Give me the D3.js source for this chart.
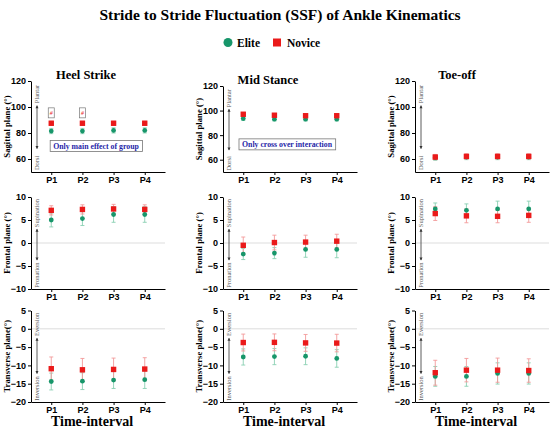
<!DOCTYPE html>
<html>
<head>
<meta charset="utf-8">
<script src="https://cdn.jsdelivr.net/npm/d3@7"></script>
<style>
  body { margin: 0; background: #fff; }
  svg { font-family: "Palatino Linotype", "Book Antiqua", Palatino, "Liberation Serif", serif; }
  .tick text { font-weight: bold; font-size: 9px; fill: #000; }
  .domain, .tick line { stroke: #000; }
</style>
</head>
<body>
<svg width="550" height="429"></svg>
<script>
// categories
const periods = ['P1', 'P2', 'P3', 'P4'];
const phases = ['Heel Strike', 'Mid Stance', 'Toe-off'];
const planes = ['Sagittal plane (°)', 'Frontal plane (°)', 'Transverse plane(°)'];

// means, one row per phase (Heel Strike, Mid Stance, Toe-off)
const eliteSagittal = [[81.5, 81.5, 82, 82], [93.5, 93, 93, 93], [61, 61.5, 61.5, 61.5]];
const noviceSagittal = [[87.5, 87.5, 87.5, 87.5], [97, 96.2, 95.8, 95.8], [61.5, 62, 62, 62]];
const eliteFrontal = [[5.0, 5.3, 6.2, 6.2], [-2.4, -2.2, -1.4, -1.4], [7.4, 7.1, 7.4, 7.4]];
const noviceFrontal = [[7.1, 7.3, 7.4, 7.3], [-0.5, 0.1, 0.2, 0.4], [6.4, 5.9, 5.8, 6.0]];
const eliteTransverse = [[-14.4, -14.3, -14.0, -13.9], [-7.7, -7.6, -7.5, -8.1], [-13.0, -13.0, -12.2, -12.2]];
const noviceTransverse = [[-10.9, -11.2, -11.1, -11.0], [-3.75, -3.7, -3.85, -3.9], [-12.0, -11.3, -11.3, -11.4]];

// standard deviations
const eliteSagittalSD = [[2, 2, 2, 2], [1.5, 1.5, 1.5, 1.5], [2, 2, 2, 2]];
const noviceSagittalSD = [[1.5, 1.5, 1.5, 1.5], [1.5, 1.5, 1.5, 1.5], [2, 2, 2, 2]];
const eliteFrontalSD = [[1.5, 1.5, 1.7, 1.7], [1.2, 1.2, 1.7, 1.8], [1.3, 1.4, 1.7, 1.7]];
const noviceFrontalSD = [[1.0, 1.0, 1.0, 1.0], [1.8, 1.6, 1.5, 1.5], [1.5, 1.5, 1.4, 1.5]];
const eliteTransverseSD = [[2.3, 2.3, 2.3, 2.4], [2.2, 2.2, 2.3, 2.4], [2.7, 2.7, 2.9, 2.9]];
const noviceTransverseSD = [[3.2, 3.1, 3.1, 3.1], [2.3, 2.3, 2.3, 2.4], [3.4, 3.2, 3.3, 3.2]];

// axis ticks per plane
const sagittalTicks = [60, 80, 100, 120];
const frontalTicks = [-10, -5, 0, 5, 10];
const transverseTicks = [-20, -15, -10, -5, 0, 5];

// direction labels per plane: [top word, bottom word]
const directionWords = [['Plantar', 'Dorsi'], ['Supination', 'Pronation'], ['Eversion', 'Inversion']];

const green = '#17966a', red = '#ea1a1a';
const greenBar = '#8ad0b2', redBar = '#f39a9a';

const rows = [
  {domain: [50, 120], ticks: sagittalTicks, bottom: 172, tops: [81, 86, 81],
   elite: eliteSagittal, novice: noviceSagittal, eSD: eliteSagittalSD, nSD: noviceSagittalSD,
   arrow: [101, 68], words: [110, 57], zero: false},
  {domain: [-10, 10], ticks: frontalTicks, bottom: 289, tops: [197, 197, 197],
   elite: eliteFrontal, novice: noviceFrontal, eSD: eliteFrontalSD, nSD: noviceFrontalSD,
   arrow: [3, -3.7], words: [6.5, -7], zero: true},
  {domain: [-20, 5], ticks: transverseTicks, bottom: 402, tops: [310.5, 310.5, 310.5],
   elite: eliteTransverse, novice: noviceTransverse, eSD: eliteTransverseSD, nSD: noviceTransverseSD,
   arrow: [-2.6, -12.2], words: [1.2, -16.3], zero: true}
];

const axisX = [31, 223, 415];
const axisLen = 134;

const svg = d3.select('svg');

svg.append('text').attr('x', 280).attr('y', 20).attr('text-anchor', 'middle')
  .attr('font-weight', 'bold').attr('font-size', 15.5)
  .text('Stride to Stride Fluctuation (SSF) of Ankle Kinematics');

// legend
svg.append('circle').attr('cx', 228).attr('cy', 42.5).attr('r', 4.5).attr('fill', green);
svg.append('text').attr('x', 237).attr('y', 46.5).attr('font-weight', 'bold').attr('font-size', 11.5).text('Elite');
svg.append('rect').attr('x', 273).attr('y', 38.5).attr('width', 8).attr('height', 8).attr('fill', red);
svg.append('text').attr('x', 287).attr('y', 46.5).attr('font-weight', 'bold').attr('font-size', 11.5).text('Novice');

const titleY = [79, 84, 79];
const titleX = [86, 268, 457];
phases.forEach((p, c) => {
  svg.append('text').attr('x', titleX[c]).attr('y', titleY[c]).attr('text-anchor', 'middle')
    .attr('font-weight', 'bold').attr('font-size', 12.5).text(p);
});

rows.forEach((row, r) => {
  phases.forEach((phase, c) => {
    const ax = axisX[c];
    const g = svg.append('g');
    const x = d3.scalePoint().domain(periods).range([ax, ax + axisLen]).padding(0.65);
    const y = d3.scaleLinear().domain(row.domain).range([row.bottom, row.tops[c]]);

    if (row.zero) {
      g.append('line').attr('x1', ax).attr('x2', ax + axisLen)
        .attr('y1', y(0)).attr('y2', y(0)).attr('stroke', '#d4d4d4').attr('stroke-width', 0.8);
    }

    g.append('g').attr('transform', `translate(${ax},0)`)
      .call(d3.axisLeft(y).tickValues(row.ticks).tickSize(3).tickSizeOuter(0).tickPadding(2));
    g.append('g').attr('transform', `translate(0,${row.bottom})`)
      .call(d3.axisBottom(x).tickSize(3).tickSizeOuter(0).tickPadding(2));

    // y label
    g.append('text')
      .attr('transform', `translate(${ax - 21},${(row.bottom + row.tops[c]) / 2}) rotate(-90)`)
      .attr('text-anchor', 'middle').attr('font-weight', 'bold').attr('font-size', 8.7)
      .text(planes[r]);

    // direction arrow and words
    const arX = ax + 6;
    g.append('line').attr('x1', arX).attr('x2', arX)
      .attr('y1', y(row.arrow[0])).attr('y2', y(row.arrow[1]))
      .attr('stroke', '#333').attr('stroke-width', 0.8);
    row.arrow.forEach((v, i) => {
      const yy = y(v), d = i === 0 ? -1 : 1;
      g.append('path').attr('d', `M${arX - 1.5},${yy - d * 2.5}L${arX},${yy + d * 0.5}L${arX + 1.5},${yy - d * 2.5}Z`)
        .attr('fill', '#333');
    });
    row.words.forEach((v, i) => {
      g.append('text').attr('transform', `translate(${arX + 2.3},${y(v)}) rotate(-90)`)
        .attr('text-anchor', 'middle').attr('font-size', 6.5).attr('fill', '#555')
        .text(directionWords[r][i]);
    });

    const series = [
      {vals: row.elite[c], sd: row.eSD[c], color: green, bar: greenBar, shape: 'circle'},
      {vals: row.novice[c], sd: row.nSD[c], color: red, bar: redBar, shape: 'square'}
    ];
    series.forEach(s => {
      const pts = periods.map((p, i) => ({p, m: s.vals[i], sd: s.sd[i]}));
      const eb = g.append('g').selectAll('g').data(pts).enter().append('g')
        .attr('stroke', s.bar).attr('stroke-width', 0.9);
      eb.append('line').attr('x1', d => x(d.p)).attr('x2', d => x(d.p))
        .attr('y1', d => y(d.m + d.sd)).attr('y2', d => y(d.m - d.sd));
      [1, -1].forEach(k => {
        eb.append('line').attr('x1', d => x(d.p) - 2).attr('x2', d => x(d.p) + 2)
          .attr('y1', d => y(d.m + k * d.sd)).attr('y2', d => y(d.m + k * d.sd));
      });
    });
    series.forEach(s => {
      const pts = periods.map((p, i) => ({p, m: s.vals[i]}));
      if (s.shape === 'circle') {
        g.selectAll(null).data(pts).enter().append('circle')
          .attr('cx', d => x(d.p)).attr('cy', d => y(d.m)).attr('r', 2.4).attr('fill', s.color);
      } else {
        g.selectAll(null).data(pts).enter().append('rect')
          .attr('x', d => x(d.p) - 2.7).attr('y', d => y(d.m) - 2.7)
          .attr('width', 5.4).attr('height', 5.4).attr('fill', s.color);
      }
    });

    // annotations on the sagittal row
    if (r === 0 && c === 0) {
      ['P1', 'P2'].forEach(p => {
        g.append('rect').attr('x', x(p) - 3).attr('y', y(95.5) - 5).attr('width', 6).attr('height', 10)
          .attr('fill', '#fff').attr('stroke', '#777').attr('stroke-width', 0.7);
        g.append('text').attr('x', x(p)).attr('y', y(95.5) + 2).attr('text-anchor', 'middle')
          .attr('font-size', 6).attr('font-style', 'italic').attr('fill', red).text('#');
      });
    }
    if (r === 0 && c < 2) {
      const label = c === 0 ? 'Only main effect of group' : 'Only cross over interaction';
      const cy = c === 0 ? y(70) : y(72.5);
      const cx = c === 0 ? 96 : 287;
      const box = g.append('rect');
      const t = g.append('text').attr('x', cx).attr('y', cy + 3).attr('text-anchor', 'middle')
        .attr('font-weight', 'bold').attr('font-size', 7.8).attr('fill', '#1f1fa8').text(label);
      const bb = t.node().getBBox();
      box.attr('x', bb.x - 3).attr('y', cy - 5.5)
        .attr('width', bb.width + 6).attr('height', 11)
        .attr('fill', '#fff').attr('stroke', '#777').attr('stroke-width', 0.8);
    }

    if (r === 2) {
      g.append('text').attr('x', ax + axisLen / 2 - 6).attr('y', 426).attr('text-anchor', 'middle')
        .attr('font-weight', 'bold').attr('font-size', 14).text('Time-interval');
    }
  });
});
</script>
</body>
</html>
